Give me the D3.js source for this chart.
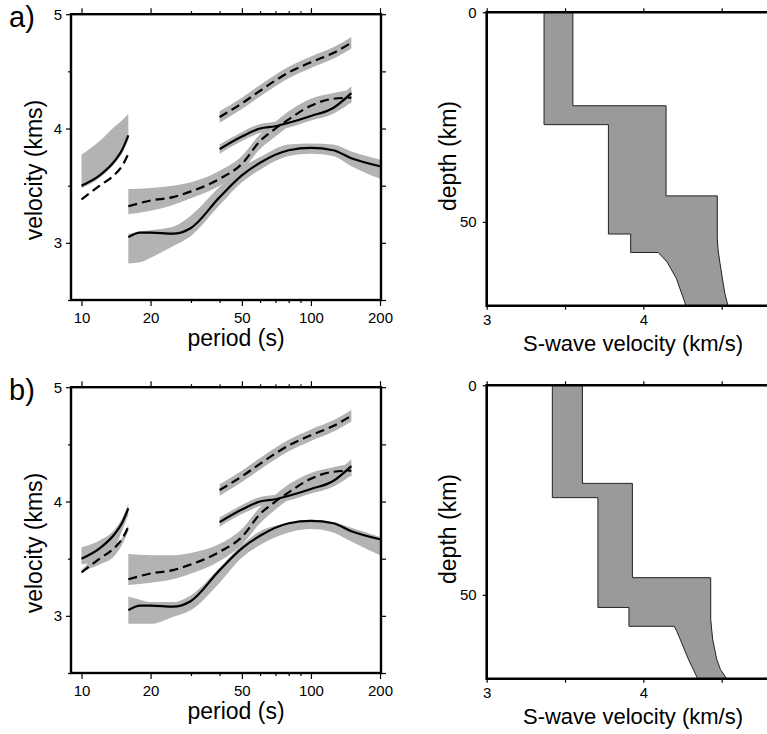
<!DOCTYPE html>
<html>
<head>
<meta charset="utf-8">
<script src="https://cdn.jsdelivr.net/npm/d3@7"></script>
<style>
  body { margin: 0; background: #fff; }
  svg { display: block; }
</style>
</head>
<body>
<svg width="767" height="734"></svg>
<script>
// ---------- dispersion curves (period in s, velocity in km/s) ----------
const periodsShort = [10, 12, 14, 15, 16];
const vShortSolid  = [3.50, 3.59, 3.72, 3.81, 3.94];
const vShortDashed = [3.38, 3.50, 3.60, 3.67, 3.78];

const periodsLong = [16, 18, 20, 25, 30, 40, 50, 60, 80, 100, 125, 150, 200];
const vLongSolid  = [3.05, 3.09, 3.09, 3.08, 3.13, 3.40, 3.59, 3.70, 3.81, 3.83, 3.81, 3.74, 3.67];

const periodsMid = [16, 20, 25, 30, 40, 50, 60, 70, 80, 100, 125, 150];
const vMidDashed = [3.32, 3.37, 3.40, 3.45, 3.56, 3.69, 3.89, 4.00, 4.08, 4.20, 4.26, 4.27];

const periodsHigh = [40, 50, 60, 70, 80, 100, 125, 150];
const vHighDashed = [4.10, 4.22, 4.33, 4.42, 4.49, 4.58, 4.66, 4.75];
const vHighSolid  = [3.82, 3.93, 4.00, 4.02, 4.05, 4.11, 4.18, 4.31];

// grey bands (model predictions), panel a
const bandShortA_lo = [3.48, 3.57, 3.70, 3.78, 3.90];
const bandShortA_hi = [3.77, 3.89, 4.02, 4.07, 4.13];
const bandLongA_lo  = [2.82, 2.83, 2.87, 2.97, 3.06, 3.33, 3.53, 3.64, 3.76, 3.78, 3.76, 3.67, 3.56];
const bandLongA_hi  = [3.08, 3.10, 3.11, 3.14, 3.24, 3.49, 3.66, 3.75, 3.86, 3.87, 3.86, 3.80, 3.73];
const bandMidA_lo   = [3.25, 3.28, 3.33, 3.39, 3.50, 3.63, 3.82, 3.93, 4.02, 4.14, 4.21, 4.22];
const bandMidA_hi   = [3.47, 3.48, 3.50, 3.53, 3.63, 3.76, 3.95, 4.06, 4.15, 4.26, 4.31, 4.34];

// grey bands, panel b
const bandShortB_lo  = [3.45, 3.49, 3.60, 3.74, 3.88];
const bandShortB_hi  = [3.60, 3.66, 3.76, 3.85, 3.98];
const bandShortDB_lo = [3.39, 3.45, 3.53, 3.62, 3.74];
const bandShortDB_hi = [3.40, 3.55, 3.62, 3.68, 3.80];
const bandLongB_lo   = [2.93, 2.93, 2.93, 2.99, 3.05, 3.29, 3.51, 3.62, 3.73, 3.76, 3.73, 3.65, 3.53];
const bandLongB_hi   = [3.17, 3.14, 3.12, 3.12, 3.18, 3.42, 3.62, 3.74, 3.81, 3.84, 3.82, 3.77, 3.69];
const bandMidB_lo    = [3.27, 3.29, 3.32, 3.37, 3.48, 3.62, 3.81, 3.93, 4.02, 4.14, 4.20, 4.22];
const bandMidB_hi    = [3.54, 3.53, 3.53, 3.55, 3.63, 3.76, 3.95, 4.06, 4.15, 4.25, 4.30, 4.33];

// shared bands for the long-period branch
const bandHighD_lo = [4.05, 4.17, 4.28, 4.37, 4.44, 4.53, 4.61, 4.70];
const bandHighD_hi = [4.15, 4.27, 4.38, 4.47, 4.54, 4.63, 4.71, 4.80];
const bandHighS_lo = [3.78, 3.89, 3.96, 3.99, 4.01, 4.07, 4.13, 4.23];
const bandHighS_hi = [3.86, 3.97, 4.04, 4.06, 4.09, 4.16, 4.24, 4.37];

// ---------- velocity models (depth km, S-wave km/s) ----------
const modelA_depthMax = [0, 22.3, 22.3, 43.8, 43.8, 54, 57, 60, 63.6, 67, 70];
const modelA_vMax     = [3.55, 3.55, 4.145, 4.145, 4.472, 4.472, 4.478, 4.49, 4.505, 4.52, 4.54];
const modelA_depthMin = [0, 26.8, 26.8, 52.9, 52.9, 57.3, 57.3, 58.5, 59.6, 63.6, 70];
const modelA_vMin     = [3.366, 3.366, 3.777, 3.777, 3.919, 3.919, 4.095, 4.125, 4.152, 4.212, 4.272];

const modelB_depthMax = [0, 23.4, 23.4, 45.9, 45.9, 55.8, 60.5, 65.3, 67.8, 70];
const modelB_vMax     = [3.611, 3.611, 3.93, 3.93, 4.43, 4.43, 4.442, 4.468, 4.492, 4.532];
const modelB_depthMin = [0, 26.8, 26.8, 53.0, 53.0, 57.5, 57.5, 58.8, 60.5, 65.3, 70];
const modelB_vMin     = [3.419, 3.419, 3.71, 3.71, 3.908, 3.908, 4.197, 4.215, 4.234, 4.287, 4.347];

const periodTicksMajor = [10, 20, 50, 100, 200];
const periodTicksMinor = [30, 40, 60, 70, 80, 90];
const velTicksMajor = [3, 4, 5];
const velTicksMinor = [2.5, 3.5, 4.5];
const vsTicks = [3, 3.5, 4, 4.5];
const vsLabels = [3, 4];
const depthTicks = [0, 50];

const FONT = '"Liberation Sans", Arial, Helvetica, sans-serif';
const bandColor = '#b3b3b3';
const modelColor = '#9a9a9a';

const svg = d3.select('svg');
svg.append('rect').attr('width', 767).attr('height', 734).attr('fill', '#fff');

function styleAxis(g) {
  g.attr('font-family', FONT).attr('font-size', 15);
  g.select('.domain').remove();
  g.selectAll('.tick line').attr('stroke', '#000').attr('stroke-width', 1.2);
  g.selectAll('.tick text').attr('fill', '#000');
}

function drawDispersion(g, bands) {
  const x = d3.scaleLog().domain([9, 202]).range([71, 381]);
  const y = d3.scaleLinear().domain([2.5, 5]).range([300, 14.2]);

  const area = d3.area()
    .x(d => x(d[0])).y0(d => y(d[1])).y1(d => y(d[2]))
    .curve(d3.curveMonotoneX);
  g.append('g').selectAll('path')
    .data(bands)
    .join('path')
    .attr('fill', bandColor)
    .attr('d', b => area(d3.zip(b.p, b.lo, b.hi)));

  const line = d3.line().x(d => x(d[0])).y(d => y(d[1])).curve(d3.curveMonotoneX);
  const curves = [
    { p: periodsShort, v: vShortSolid, dashed: false },
    { p: periodsShort, v: vShortDashed, dashed: true },
    { p: periodsLong, v: vLongSolid, dashed: false },
    { p: periodsMid, v: vMidDashed, dashed: true },
    { p: periodsHigh, v: vHighDashed, dashed: true },
    { p: periodsHigh, v: vHighSolid, dashed: false }
  ];
  g.append('g').selectAll('path')
    .data(curves)
    .join('path')
    .attr('fill', 'none')
    .attr('stroke', '#000')
    .attr('stroke-width', 2.2)
    .attr('stroke-dasharray', d => d.dashed ? '9,5' : null)
    .attr('d', d => line(d3.zip(d.p, d.v)));

  // axes: major + minor ticks on all four sides
  g.append('g').attr('transform', 'translate(0,300)')
    .call(d3.axisBottom(x).tickValues(periodTicksMajor).tickSize(6).tickPadding(6).tickFormat(d3.format('d')))
    .call(styleAxis);
  g.append('g').attr('transform', 'translate(0,300)')
    .call(d3.axisBottom(x).tickValues(periodTicksMinor).tickSize(3).tickFormat(''))
    .call(styleAxis);
  g.append('g').attr('transform', 'translate(0,14.2)')
    .call(d3.axisTop(x).tickValues(periodTicksMajor).tickSize(6).tickFormat(''))
    .call(styleAxis);
  g.append('g').attr('transform', 'translate(0,14.2)')
    .call(d3.axisTop(x).tickValues(periodTicksMinor).tickSize(3).tickFormat(''))
    .call(styleAxis);
  g.append('g').attr('transform', 'translate(71,0)')
    .call(d3.axisLeft(y).tickValues(velTicksMajor).tickSize(5).tickPadding(4).tickFormat(d3.format('d')))
    .call(styleAxis);
  g.append('g').attr('transform', 'translate(71,0)')
    .call(d3.axisLeft(y).tickValues(velTicksMinor).tickSize(3).tickFormat(''))
    .call(styleAxis);
  g.append('g').attr('transform', 'translate(381,0)')
    .call(d3.axisRight(y).tickValues(velTicksMajor.concat(velTicksMinor)).tickSize(5).tickFormat(''))
    .call(styleAxis);

  g.append('rect')
    .attr('x', 71).attr('y', 14.2).attr('width', 310).attr('height', 285.8)
    .attr('fill', 'none').attr('stroke', '#000').attr('stroke-width', 2.4);

  g.append('text')
    .attr('x', 236).attr('y', 346)
    .attr('text-anchor', 'middle')
    .attr('font-family', FONT).attr('font-size', 23)
    .text('period (s)');
  g.append('text')
    .attr('transform', 'translate(42,170) rotate(-90)')
    .attr('text-anchor', 'middle')
    .attr('font-family', FONT).attr('font-size', 23)
    .text('velocity (kms)');
}

function drawModel(g, m) {
  const x = d3.scaleLinear().domain([3, 5]).range([486.7, 800]);
  const y = d3.scaleLinear().domain([0, 70]).range([12.3, 305.7]);

  const pts = d3.zip(m.vMax, m.depthMax).concat(d3.zip(m.vMin, m.depthMin).reverse());
  const line = d3.line().x(d => x(d[0])).y(d => y(d[1]));
  g.append('path')
    .attr('d', line(pts) + 'Z')
    .attr('fill', modelColor)
    .attr('stroke', '#222')
    .attr('stroke-width', 1);

  g.append('g').attr('transform', 'translate(0,305.7)')
    .call(d3.axisBottom(x).tickValues(vsTicks).tickSize(4).tickPadding(5)
      .tickFormat(d => vsLabels.includes(d) ? d3.format('d')(d) : ''))
    .call(styleAxis);
  g.append('g').attr('transform', 'translate(0,12.3)')
    .call(d3.axisTop(x).tickValues(vsTicks).tickSize(4).tickFormat(''))
    .call(styleAxis);
  g.append('g').attr('transform', 'translate(486.7,0)')
    .call(d3.axisLeft(y).tickValues(depthTicks).tickSize(4).tickPadding(6).tickFormat(d3.format('d')))
    .call(styleAxis);

  g.append('path')
    .attr('d', `M${x(5)},${y(0)}H${x(3)}V${y(70)}H${x(5)}`)
    .attr('fill', 'none').attr('stroke', '#000').attr('stroke-width', 2.6);

  g.append('text')
    .attr('x', 633).attr('y', 351)
    .attr('text-anchor', 'middle')
    .attr('font-family', FONT).attr('font-size', 22)
    .text('S-wave velocity (km/s)');
  g.append('text')
    .attr('transform', 'translate(456,156) rotate(-90)')
    .attr('text-anchor', 'middle')
    .attr('font-family', FONT).attr('font-size', 23)
    .text('depth (km)');
}

const panels = [
  {
    label: 'a)', dy: 0,
    bands: [
      { p: periodsShort, lo: bandShortA_lo, hi: bandShortA_hi },
      { p: periodsLong, lo: bandLongA_lo, hi: bandLongA_hi },
      { p: periodsMid, lo: bandMidA_lo, hi: bandMidA_hi },
      { p: periodsHigh, lo: bandHighD_lo, hi: bandHighD_hi },
      { p: periodsHigh, lo: bandHighS_lo, hi: bandHighS_hi }
    ],
    model: { depthMax: modelA_depthMax, vMax: modelA_vMax, depthMin: modelA_depthMin, vMin: modelA_vMin }
  },
  {
    label: 'b)', dy: 373,
    bands: [
      { p: periodsShort, lo: bandShortB_lo, hi: bandShortB_hi },
      { p: periodsShort, lo: bandShortDB_lo, hi: bandShortDB_hi },
      { p: periodsLong, lo: bandLongB_lo, hi: bandLongB_hi },
      { p: periodsMid, lo: bandMidB_lo, hi: bandMidB_hi },
      { p: periodsHigh, lo: bandHighD_lo, hi: bandHighD_hi },
      { p: periodsHigh, lo: bandHighS_lo, hi: bandHighS_hi }
    ],
    model: { depthMax: modelB_depthMax, vMax: modelB_vMax, depthMin: modelB_depthMin, vMin: modelB_vMin }
  }
];

panels.forEach(pn => {
  const g = svg.append('g').attr('transform', `translate(0,${pn.dy})`);
  drawDispersion(g, pn.bands);
  drawModel(g, pn.model);
  g.append('text')
    .attr('x', 9).attr('y', 27)
    .attr('font-family', FONT).attr('font-size', 29)
    .text(pn.label);
});
</script>
</body>
</html>
